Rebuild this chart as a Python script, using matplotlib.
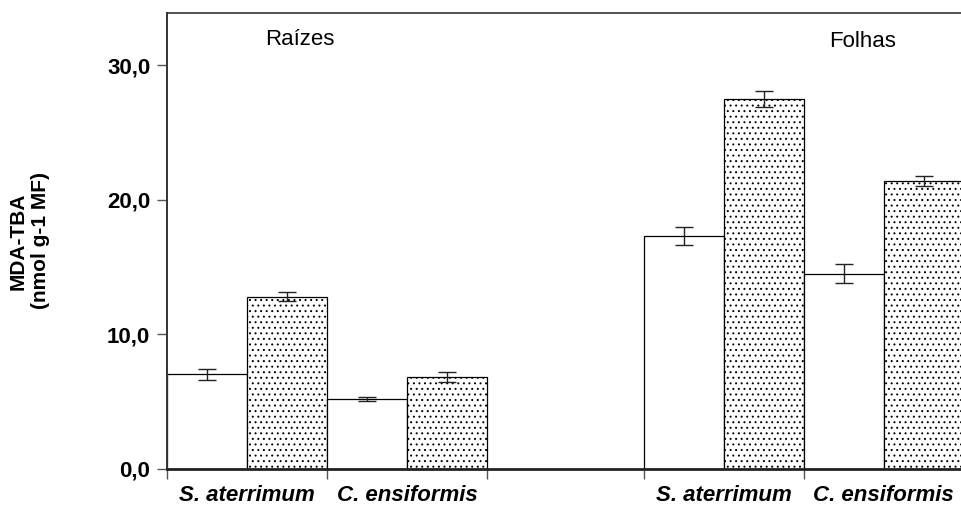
import numpy as np
import matplotlib
matplotlib.use("Agg")
import matplotlib.pyplot as plt

# MDA-TBA content (nmol g-1 MF), mean and error, per organ
species = ["S. aterrimum", "C. ensiformis"]
organs = ["Raízes", "Folhas"]
# for each organ: [S.a. white, S.a. dotted, C.e. white, C.e. dotted]
raizes_vals = [7.0, 12.8, 5.2, 6.8]
raizes_err = [0.42, 0.35, 0.14, 0.36]
folhas_vals = [17.3, 27.5, 14.5, 21.4]
folhas_err = [0.65, 0.57, 0.70, 0.35]
yticks = [0, 10, 20, 30]
ytick_labels = ["0,0", "10,0", "20,0", "30,0"]

plt.rcParams['font.family'] = ['Liberation Sans', 'DejaVu Sans']
plt.rcParams['hatch.linewidth'] = 0.7
plt.rcParams['hatch.color'] = '#444444'

fig = plt.figure(figsize=(9.61, 5.13), dpi=100)
ax = fig.add_axes([167 / 961, 44.5 / 513, 800 / 961, 455.5 / 513])

group_start = [0.0, 5.96]
all_vals = [raizes_vals, folhas_vals]
all_err = [raizes_err, folhas_err]

for g, start in enumerate(group_start):
    x = start + np.arange(4) + 0.5
    for i in range(4):
        dotted = i % 2 == 1
        ax.bar(x[i], all_vals[g][i], width=1.0, color='white',
               edgecolor='black', linewidth=0.9,
               hatch='...' if dotted else None, zorder=2)
        ax.errorbar(x[i], all_vals[g][i], yerr=all_err[g][i], fmt='none',
                    ecolor='#222222', elinewidth=1.0, capsize=6.5,
                    capthick=1.0, zorder=3)

ax.set_xlim(0, 10)
ax.set_ylim(0, 33.9)

# boundaries as major ticks, species names as unmarked minor ticks
major = []
minor = []
for start in group_start:
    major += [start, start + 2, start + 4]
    minor += [start + 1, start + 3]
ax.set_xticks(major)
ax.set_xticklabels([])
ax.set_xticks(minor, minor=True)
ax.set_xticklabels(species * 2, minor=True, fontsize=16,
                   fontweight='bold', fontstyle='italic')
ax.tick_params(axis='x', which='minor', length=0, pad=12)
ax.tick_params(axis='x', which='major', direction='out', length=7,
               width=1, color='#555555')

ax.set_yticks(yticks)
ax.set_yticklabels(ytick_labels, fontsize=16, fontweight='bold')
ax.tick_params(axis='y', direction='out', length=7, width=1,
               color='#555555', pad=5)

ax.spines['right'].set_visible(False)
ax.spines['left'].set_linewidth(1.4)
ax.spines['left'].set_color('#333333')
ax.spines['top'].set_linewidth(1.2)
ax.spines['top'].set_color('#333333')
ax.spines['bottom'].set_linewidth(2.0)
ax.spines['bottom'].set_color('#222222')

ax.set_ylabel("MDA-TBA\n(nmol g-1 MF)", fontsize=15, fontweight='bold',
              labelpad=41, linespacing=1.25)

ax.text(1.66, 31.9, organs[0], fontsize=16, ha='center', va='center')
ax.text(8.69, 31.75, organs[1], fontsize=16, ha='center', va='center')

fig.savefig("out.png", dpi=100)
